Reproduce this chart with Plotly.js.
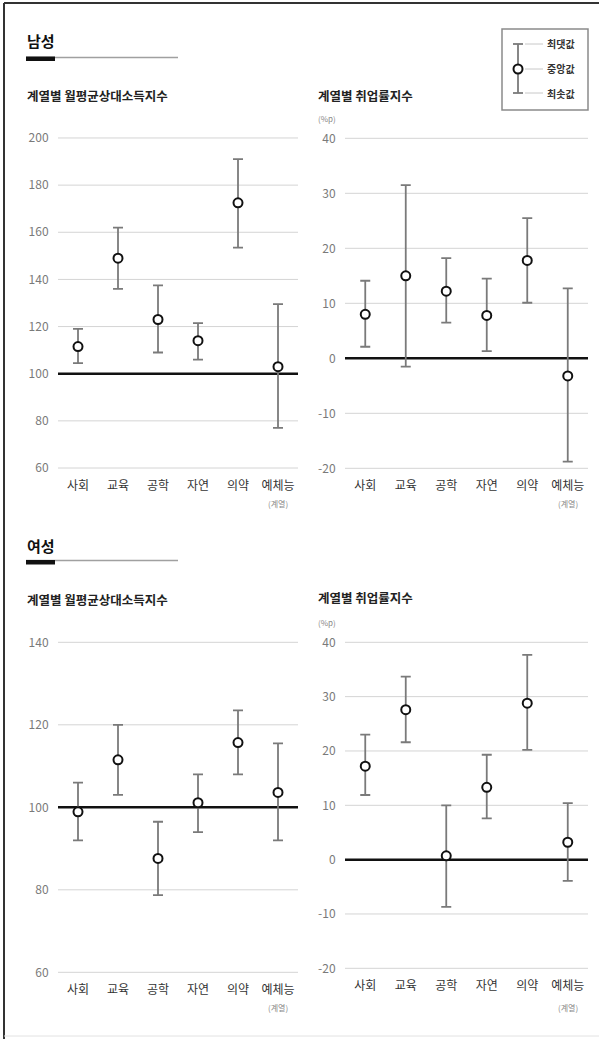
<!DOCTYPE html>
<html><head><meta charset="utf-8">
<script src="https://cdn.plot.ly/plotly-3.0.1.min.js"></script>
<style>html,body{margin:0;padding:0;background:#fff;}#chart{width:599px;height:1039px;}</style>
</head><body><div id="chart"></div>
<script>
// ---------- data ----------
const categories = ['사회','교육','공학','자연','의약','예체능'];

const maleIncomeMed = [111.5, 149, 123, 114, 172.5, 103];
const maleIncomeMax = [119, 162, 137.5, 121.5, 191, 129.5];
const maleIncomeMin = [104.5, 136, 109, 106, 153.5, 77];

const maleEmpMed = [8, 15, 12.2, 7.8, 17.8, -3.2];
const maleEmpMax = [14.1, 31.5, 18.2, 14.5, 25.5, 12.7];
const maleEmpMin = [2.1, -1.5, 6.5, 1.3, 10.1, -18.8];

const femaleIncomeMed = [98.9, 111.5, 87.6, 101.1, 115.7, 103.6];
const femaleIncomeMax = [106, 120, 96.5, 108, 123.5, 115.5];
const femaleIncomeMin = [92, 103, 78.7, 94, 108, 92];

const femaleEmpMed = [17.2, 27.6, 0.7, 13.3, 28.8, 3.2];
const femaleEmpMax = [23, 33.7, 10, 19.3, 37.7, 10.4];
const femaleEmpMin = [11.9, 21.6, -8.7, 7.6, 20.2, -3.9];

const maleIncomeTicks = [60, 80, 100, 120, 140, 160, 180, 200];
const femaleIncomeTicks = [60, 80, 100, 120, 140];
const empTicks = [-20, -10, 0, 10, 20, 30, 40];
const empTickText = ['-20', '-10', '0', '10', '20', '30', '40'];

const sectionTitles = ['남성', '여성'];
const incomeTitle = '계열별 월평균상대소득지수';
const empTitle = '계열별 취업률지수';
const empUnit = '(%p)';
const groupNote = '(계열)';
const legendLabels = ['최댓값', '중앙값', '최솟값'];
const incomeBase = 100;
const empBase = 0;

// ---------- helpers ----------
const W = 599, H = 1039;
const FONT = '"Noto Sans CJK KR", "Noto Sans", sans-serif';
const px = x => x / W;
const py = y => 1 - y / H;

function trace(med, mx, mn, xa, ya) {
  return {
    type: 'scatter', mode: 'markers',
    x: categories, y: med, xaxis: xa, yaxis: ya,
    marker: {symbol: 'circle', size: 9, color: '#ffffff', line: {color: '#111', width: 2}},
    error_y: {
      type: 'data', symmetric: false,
      array: mx.map((v, i) => v - med[i]),
      arrayminus: mn.map((v, i) => med[i] - v),
      color: '#7a7a7a', thickness: 1.8, width: 5
    },
    hoverinfo: 'skip', showlegend: false, cliponaxis: false
  };
}

function xAxis(x0, x1, anchor) {
  return {
    domain: [px(x0), px(x1)], anchor: anchor, type: 'category',
    range: [-0.5, 5.5], showgrid: false, zeroline: false, showline: false,
    ticks: 'outside', ticklen: 5, tickcolor: 'rgba(0,0,0,0)',
    tickfont: {family: FONT, size: 12, color: '#333'}, fixedrange: true
  };
}
function yAxis(top, bottom, range, tv, tt, anchor) {
  return {
    domain: [py(bottom), py(top)], anchor: anchor, range: range,
    tickmode: 'array', tickvals: tv, ticktext: tt,
    showgrid: false, zeroline: false, showline: false,
    ticks: 'outside', ticklen: 6, tickcolor: 'rgba(0,0,0,0)',
    tickfont: {family: FONT, size: 12, color: '#7a7a7a'}, fixedrange: true
  };
}

const data = [
  trace(maleIncomeMed, maleIncomeMax, maleIncomeMin, 'x', 'y'),
  trace(maleEmpMed, maleEmpMax, maleEmpMin, 'x2', 'y2'),
  trace(femaleIncomeMed, femaleIncomeMax, femaleIncomeMin, 'x3', 'y3'),
  trace(femaleEmpMed, femaleEmpMax, femaleEmpMin, 'x4', 'y4')
];

// ---------- annotations ----------
const ann = [];
function txt(text, x, y, size, color, bold, anchor) {
  ann.push({xref: 'paper', yref: 'paper', x: px(x), y: py(y), text: bold ? '<b>' + text + '</b>' : text,
    showarrow: false, xanchor: anchor || 'left', yanchor: 'middle',
    font: {family: FONT, size: size, color: color}});
}
txt(sectionTitles[0], 25, 41, 15, '#111', true);
txt(sectionTitles[1], 25, 545, 15, '#111', true);
txt(incomeTitle, 25, 95, 12.5, '#222', true);
txt(empTitle, 316, 95, 12.5, '#222', true);
txt(incomeTitle, 25, 599, 12.5, '#222', true);
txt(empTitle, 316, 597, 12.5, '#222', true);
txt(empUnit, 316, 118, 8, '#888', false);
txt(empUnit, 316, 622, 8, '#888', false);

[['x', 503], ['x2', 503], ['x3', 1007], ['x4', 1007]].forEach(([xr, y]) => {
  ann.push({xref: xr, yref: 'paper', x: categories[5], y: py(y), text: groupNote, showarrow: false,
    xanchor: 'center', yanchor: 'middle', font: {family: FONT, size: 8, color: '#888'}});
});

// legend labels
const legY = [44, 69, 93];
legendLabels.forEach((t, i) => txt(t, 545, legY[i], 10, '#333', true));

// ---------- shapes ----------
const shapes = [];
// gridlines (drawn as shapes so the baseline can sit above them and below the markers)
function grid(xr, yr, ticks, base) {
  ticks.forEach(v => shapes.push({type: 'line', xref: xr + ' domain', yref: yr, x0: 0, x1: 1, y0: v, y1: v,
    line: {color: '#d4d4d4', width: 1}, layer: 'below'}));
  shapes.push({type: 'line', xref: xr + ' domain', yref: yr, x0: 0, x1: 1, y0: base, y1: base,
    line: {color: '#111', width: 2.5}, layer: 'below'});
}
grid('x', 'y', maleIncomeTicks, incomeBase);
grid('x2', 'y2', empTicks, empBase);
grid('x3', 'y3', femaleIncomeTicks, incomeBase);
grid('x4', 'y4', empTicks, empBase);

const L = (x0, y0, x1, y1, color, width) => shapes.push({type: 'line', xref: 'paper', yref: 'paper',
  x0: px(x0), x1: px(x1), y0: py(y0), y1: py(y1), line: {color: color, width: width}});
// outer frame (top and left)
L(4, 3, 599, 3, '#333', 2);
L(4, 3, 4, 1039, '#333', 2);
L(4, 1036, 599, 1036, '#e2e2e2', 1);
// section bars
L(26, 57.5, 178, 57.5, '#a0a0a0', 1.5);
shapes.push({type: 'rect', xref: 'paper', yref: 'paper', x0: px(26), x1: px(55), y0: py(56.5), y1: py(61), fillcolor: '#111', line: {width: 0}});
L(26, 560.5, 178, 560.5, '#a0a0a0', 1.5);
shapes.push({type: 'rect', xref: 'paper', yref: 'paper', x0: px(26), x1: px(55), y0: py(560), y1: py(564.5), fillcolor: '#111', line: {width: 0}});
// legend box
shapes.push({type: 'rect', xref: 'paper', yref: 'paper', x0: px(502), x1: px(588), y0: py(29), y1: py(110), line: {color: '#8a8a8a', width: 1.5}, fillcolor: 'rgba(0,0,0,0)'});
L(518, 44, 518, 93, '#7a7a7a', 1.8);
L(513, 44, 523, 44, '#7a7a7a', 1.8);
L(513, 93, 523, 93, '#7a7a7a', 1.8);
L(525, 44, 543, 44, '#c8c8c8', 1);
L(525, 69, 543, 69, '#c8c8c8', 1);
L(525, 93, 543, 93, '#c8c8c8', 1);
shapes.push({type: 'circle', xref: 'paper', yref: 'paper', x0: px(513.5), x1: px(522.5), y0: py(64.5), y1: py(73.5), fillcolor: '#fff', line: {color: '#111', width: 2}});

const layout = {
  width: W, height: H, margin: {l: 0, r: 0, t: 0, b: 0},
  paper_bgcolor: '#fff', plot_bgcolor: 'rgba(0,0,0,0)',
  font: {family: FONT},
  showlegend: false,
  xaxis: xAxis(58, 298, 'y'),
  yaxis: yAxis(138 - 1.2, 468 + 1.2, [59.5, 200.5], maleIncomeTicks, maleIncomeTicks.map(String), 'x'),
  xaxis2: xAxis(345, 588, 'y2'),
  yaxis2: yAxis(138.3 - 1.65, 468.3 + 1.65, [-20.3, 40.3], empTicks, empTickText, 'x2'),
  xaxis3: xAxis(58, 298, 'y3'),
  yaxis3: yAxis(642.3 - 1.65, 972.3 + 1.65, [59.6, 140.4], femaleIncomeTicks, femaleIncomeTicks.map(String), 'x3'),
  xaxis4: xAxis(345, 588, 'y4'),
  yaxis4: yAxis(642.3 - 1.63, 968.3 + 1.63, [-20.3, 40.3], empTicks, empTickText, 'x4'),
  annotations: ann,
  shapes: shapes
};

Plotly.newPlot('chart', data, layout, {staticPlot: true, displayModeBar: false});
</script>
</body></html>
